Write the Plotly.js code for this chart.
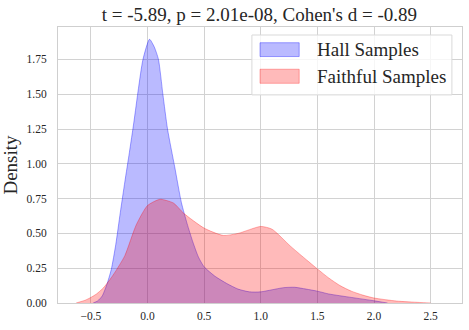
<!DOCTYPE html>
<html>
<head>
<meta charset="utf-8">
<script src="https://cdn.plot.ly/plotly-3.0.1.min.js"></script>
<style>
  html, body { margin: 0; padding: 0; background: #fff; }
  #chart { width: 469px; height: 330px; }
</style>
</head>
<body>
<div id="chart"></div>
<script>
// KDE curves
const hallX = [-0.48, -0.44, -0.40, -0.36, -0.32, -0.28, -0.24, -0.20, -0.16, -0.12, -0.08, -0.04, 0.018,
               0.06, 0.097, 0.136, 0.177, 0.24, 0.30, 0.35, 0.40, 0.45, 0.50, 0.60, 0.70, 0.80, 0.90,
               1.0, 1.1, 1.2, 1.3, 1.4, 1.5, 1.6, 1.8, 2.0, 2.12];
const hallY = [0.0, 0.015, 0.05, 0.13, 0.24, 0.42, 0.65, 0.87, 1.08, 1.3, 1.54, 1.75, 1.895,
               1.84, 1.75, 1.5, 1.25, 0.98, 0.72, 0.57, 0.44, 0.33, 0.26, 0.19, 0.14, 0.1, 0.08,
               0.08, 0.095, 0.11, 0.113, 0.1, 0.085, 0.065, 0.04, 0.016, 0.0];

const faithX = [-0.63, -0.55, -0.5, -0.45, -0.39, -0.33, -0.28, -0.2, -0.1, 0.0, 0.11, 0.23, 0.318, 0.5, 0.67,
                0.8, 1.0, 1.1, 1.26, 1.35, 1.5, 1.6, 1.7, 1.8, 1.9, 2.0, 2.2, 2.4, 2.5];
const faithY = [0.0, 0.02, 0.04, 0.065, 0.108, 0.17, 0.23, 0.34, 0.56, 0.70, 0.745, 0.718, 0.646, 0.538, 0.485,
                0.5, 0.55, 0.53, 0.41, 0.347, 0.245, 0.18, 0.125, 0.085, 0.057, 0.036, 0.014, 0.004, 0.0];

const seriesNames = ['Hall Samples', 'Faithful Samples'];
const yTicks = [0, 0.25, 0.5, 0.75, 1.0, 1.25, 1.5, 1.75];
const xTicks = [-0.5, 0, 0.5, 1.0, 1.5, 2.0, 2.5];

const serif = '"Liberation Serif", "Times New Roman", serif';
const fills = ['rgba(0,0,255,0.27)', 'rgba(255,0,0,0.27)'];
const edges = ['rgba(0,0,255,0.35)', 'rgba(255,0,0,0.3)'];

const traces = [
    {
        x: hallX, y: hallY, name: seriesNames[0],
        type: 'scatter', mode: 'lines', fill: 'tozeroy',
        line: { color: edges[0], width: 1, shape: 'spline', smoothing: 0.6 },
        fillcolor: fills[0]
    },
    {
        x: faithX, y: faithY, name: seriesNames[1],
        type: 'scatter', mode: 'lines', fill: 'tozeroy',
        line: { color: edges[1], width: 1, shape: 'spline', smoothing: 0.6 },
        fillcolor: fills[1]
    }
];

// legend drawn as a box with two swatches (matplotlib style, large patches)
const shapes = [
    { type: 'rect', xref: 'paper', yref: 'paper', x0: 0.480, x1: 0.975, y0: 0.754, y1: 0.971,
      fillcolor: 'rgba(255,255,255,0.8)', line: { color: '#d9d9d9', width: 1 }, layer: 'above' },
    { type: 'rect', xref: 'paper', yref: 'paper', x0: 0.500, x1: 0.597, y0: 0.893, y1: 0.943,
      fillcolor: fills[0], line: { color: edges[0], width: 1 }, layer: 'above' },
    { type: 'rect', xref: 'paper', yref: 'paper', x0: 0.500, x1: 0.597, y0: 0.796, y1: 0.847,
      fillcolor: fills[1], line: { color: edges[1], width: 1 }, layer: 'above' }
];
const annotations = [
    { xref: 'paper', yref: 'paper', x: 0.636, y: 0.919, xanchor: 'left', yanchor: 'middle',
      text: seriesNames[0], showarrow: false, font: { family: serif, size: 19, color: '#262626' } },
    { xref: 'paper', yref: 'paper', x: 0.636, y: 0.821, xanchor: 'left', yanchor: 'middle',
      text: seriesNames[1], showarrow: false, font: { family: serif, size: 19, color: '#262626' } }
];

const layout = {
    width: 469, height: 330,
    margin: { l: 58, r: 7, t: 27, b: 27 },
    paper_bgcolor: '#fff', plot_bgcolor: '#fff',
    font: { family: serif, color: '#262626' },
    title: {
        text: "t = -5.89, p = 2.01e-08, Cohen's d = -0.89",
        font: { family: serif, size: 19, color: '#262626' },
        x: 0.553, xanchor: 'center', y: 0.958, yanchor: 'middle'
    },
    xaxis: {
        range: [-0.79, 2.777],
        tickvals: xTicks, tickformat: '.1f',
        showgrid: true, gridcolor: '#d2d2d2', gridwidth: 1,
        zeroline: false, showline: true, linecolor: '#cfcfcf', mirror: true,
        ticks: '', ticklabelstandoff: 2,
        tickfont: { family: serif, size: 11.5, color: '#262626' }
    },
    yaxis: {
        range: [0, 1.983],
        tickvals: yTicks, tickformat: '.2f',
        showgrid: true, gridcolor: '#d2d2d2', gridwidth: 1,
        zeroline: false, showline: true, linecolor: '#cfcfcf', mirror: true,
        ticks: '', ticklabelstandoff: 8,
        tickfont: { family: serif, size: 11.5, color: '#262626' },
        title: { text: 'Density', font: { family: serif, size: 19, color: '#262626' }, standoff: 8 }
    },
    shapes: shapes,
    annotations: annotations,
    showlegend: false
};

Plotly.newPlot('chart', traces, layout, { displayModeBar: false, staticPlot: true });
</script>
</body>
</html>
